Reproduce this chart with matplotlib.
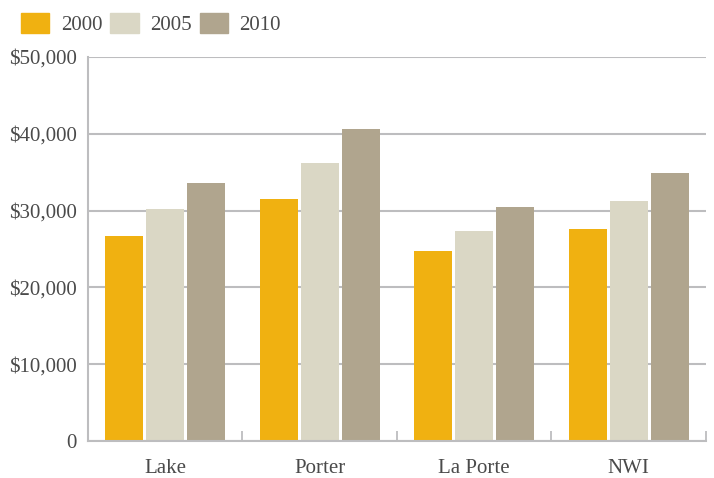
import matplotlib.pyplot as plt
import matplotlib.patches as mpatches
from matplotlib.ticker import FuncFormatter
import numpy as np

plt.rcParams["font.family"] = ["Liberation Serif", "DejaVu Serif"]

REGIONS = ["Lake", "Porter", "La Porte", "NWI"]
YEARS = ["2000", "2005", "2010"]
V2000 = [26700, 31500, 24700, 27600]
V2005 = [30200, 36200, 27300, 31250]
V2010 = [33600, 40600, 30500, 34900]
COLORS = ["#F0B111", "#DAD7C5", "#B0A58E"]

GRID = "#BDBDBF"
TXT = "#4a4a4a"

fig = plt.figure(figsize=(7.14, 4.78), dpi=100)
ax = fig.add_axes([0.1232, 0.0774, 0.8656, 0.8034])

xs = np.arange(len(REGIONS))
width = 0.246
step = 0.265
for k, (vals, col) in enumerate(zip([V2000, V2005, V2010], COLORS)):
    ax.bar(xs + (k - 1) * step, vals, width=width, color=col,
           edgecolor="none", zorder=3, label=YEARS[k])

ax.set_xlim(-0.5, 3.5)
ax.set_ylim(0, 50000)
ax.set_yticks(np.arange(0, 50001, 10000))
ax.yaxis.set_major_formatter(FuncFormatter(lambda v, p: "0" if v == 0 else f"${v:,.0f}"))
ax.grid(axis="y", color=GRID, lw=1.5, zorder=0)
ax.tick_params(axis="y", length=0, pad=8, labelsize=15, labelcolor=TXT)

ax.set_xticks(xs)
ax.set_xticklabels(REGIONS)
ax.set_xticks([0.5, 1.5, 2.5, 3.5], minor=True)
ax.tick_params(axis="x", which="major", length=0, pad=13, labelsize=15, labelcolor=TXT)
ax.tick_params(axis="x", which="minor", direction="in", length=7, width=1.3, color=GRID)

for s in ["top", "right"]:
    ax.spines[s].set_visible(False)
for s in ["left", "bottom"]:
    ax.spines[s].set_color(GRID)
    ax.spines[s].set_linewidth(1.5)
    ax.spines[s].set_zorder(4)

handles = [mpatches.Patch(color=c, label=y) for c, y in zip(COLORS, YEARS)]
fig.legend(handles=handles, loc="upper left", bbox_to_anchor=(0.012, 1.0),
           ncol=3, frameon=False, fontsize=15, labelcolor=TXT,
           handlelength=1.35, handleheight=1.15, handletextpad=0.55,
           columnspacing=0.4, borderaxespad=0.2)

fig.savefig("out.png", dpi=100)
